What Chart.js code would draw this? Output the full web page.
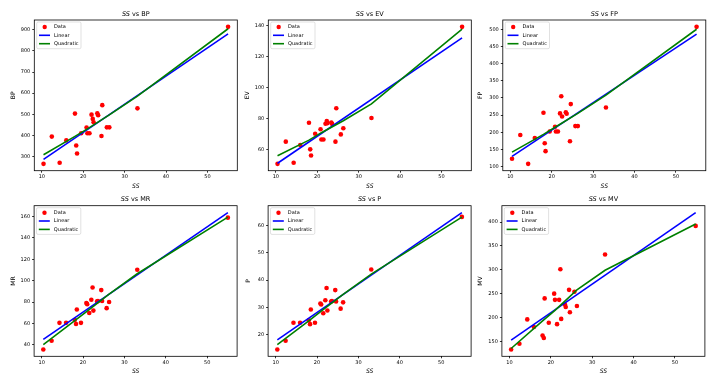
<!DOCTYPE html>
<html><head><meta charset="utf-8">
<script src="https://cdn.jsdelivr.net/npm/chart.js@4.4.0/dist/chart.umd.min.js"></script>
<style>
html,body{margin:0;padding:0;background:#fff;}
body{width:726px;height:382px;position:relative;overflow:hidden;}
canvas{position:absolute;}
</style></head><body>
<script>
// ---- data ----
const ss = [10.4, 12.4, 14.3, 15.9, 18.0, 18.3, 18.5, 19.5, 20.8, 21.0, 21.5, 22.0, 22.3, 22.5, 23.4, 23.6, 24.4, 24.6, 25.7, 26.3, 33.1, 55.0];
const bp = [265, 394, 270, 376, 503, 352, 314, 410, 437, 410, 410, 498, 478, 462, 505, 495, 397, 543, 438, 438, 528, 914];
const ev = [50.6, 65, 51.3, 62.8, 77.2, 60, 56, 70.1, 73, 66.4, 66.4, 76.6, 78.3, 77, 77.4, 76.5, 65, 86.6, 69.7, 73.7, 80.3, 139.4];
const fp = [123, 192, 108, 183, 257, 168, 145, 202, 216, 202, 202, 255, 305, 246, 258, 254, 174, 282, 218, 218, 272, 507];
const mr = [35.6, 43.7, 60.5, 60.5, 63.1, 59.4, 73, 60.5, 79, 78, 69.7, 82.2, 93.6, 72, 80.6, 81, 91.2, 81, 74.3, 80, 110.3, 159];
const pp = [14.5, 17.7, 24.3, 24.3, 25.2, 23.8, 29.2, 24.3, 31.4, 31.0, 27.8, 32.6, 37.1, 28.8, 32.1, 32.3, 36.3, 32.1, 29.5, 31.8, 43.9, 63.2];
const mv = [133, 145, 196, 180, 162, 157, 240, 189, 250, 237, 186, 237, 301, 197, 227, 222, 258, 211, 254, 224, 332, 392];

const fitX = [10.4, 55.0];
const bpLinear = [286, 881];
const evLinear = [51, 132.2];
const fpLinear = [130, 486];
const mrLinear = [45, 163.8];
const pLinear = [18.0, 64.8];
const mvLinear = [152.5, 420];

const quadX = [10.4, 18.0, 21.0, 26.3, 33.1, 55.0];
const bpQuad = [308, 395, 431, 497, 586, 905];
const evQuad = [55.8, 66, 70.8, 78.5, 89.5, 138];
const fpQuad = [142, 194, 216, 255, 308, 500];
const mrQuad = [40.2, 62.5, 71.5, 87.5, 106.5, 159.5];
const pQuad = [16.3, 25, 28.6, 34.7, 42.2, 63.1];
const mvQuad = [135, 193, 215, 258, 299, 396];

const xTicks = [10, 20, 30, 40, 50];
const bpTicks = [300, 400, 500, 600, 700, 800, 900];
const evTicks = [60, 80, 100, 120, 140];
const fpTicks = [100, 150, 200, 250, 300, 350, 400, 450, 500];
const mrTicks = [40, 60, 80, 100, 120, 140, 160];
const pTicks = [20, 30, 40, 50, 60];
const mvTicks = [150, 200, 250, 300, 350, 400];

const seriesNames = ['Data', 'Linear', 'Quadratic'];
const xName = 'SS';

// ---- layout ----
const FONT = '"DejaVu Sans", sans-serif';
const AXW = 203;
const rows = [
  {top: 0, axT: 20, axB: 170.7, titleY: 14, xlabY: 186.7},
  {top: 191, axT: 205.7, axB: 356.3, titleY: 199.3, xlabY: 371.3}
];
const panels = [
  {name: 'BP', y: bp, lin: bpLinear, quad: bpQuad, ticks: bpTicks, row: 0, axL: 34.3, ylab: 13.3},
  {name: 'EV', y: ev, lin: evLinear, quad: evQuad, ticks: evTicks, row: 0, axL: 268.3, ylab: 247.3},
  {name: 'FP', y: fp, lin: fpLinear, quad: fpQuad, ticks: fpTicks, row: 0, axL: 502.8, ylab: 480.7},
  {name: 'MR', y: mr, lin: mrLinear, quad: mrQuad, ticks: mrTicks, row: 1, axL: 34.1, ylab: 13.3},
  {name: 'P', y: pp, lin: pLinear, quad: pQuad, ticks: pTicks, row: 1, axL: 268.1, ylab: 248.7},
  {name: 'MV', y: mv, lin: mvLinear, quad: mvQuad, ticks: mvTicks, row: 1, axL: 501.9, ylab: 480.7}
];

function range(vals) {
  const lo = Math.min(...vals), hi = Math.max(...vals), m = (hi - lo) * 0.05;
  return [lo - m, hi + m];
}

const decorPlugin = {
  id: 'decor',
  afterDraw(chart, args, o) {
    const {ctx, chartArea: a} = chart;
    ctx.save();
    // frame
    ctx.strokeStyle = '#000'; ctx.lineWidth = 0.8;
    ctx.strokeRect(a.left, a.top, a.right - a.left, a.bottom - a.top);
    // title: italic SS + " vs NAME"
    ctx.fillStyle = '#000'; ctx.textBaseline = 'middle'; ctx.textAlign = 'left';
    const f1 = 'italic 6.5px ' + FONT, f2 = '6.5px ' + FONT;
    ctx.font = f1; const w1 = ctx.measureText(xName).width;
    const t2 = ' vs ' + o.name;
    ctx.font = f2; const w2 = ctx.measureText(t2).width;
    const x0 = (a.left + a.right) / 2 - (w1 + w2) / 2;
    ctx.font = f1; ctx.fillText(xName, x0, o.titleY);
    ctx.font = f2; ctx.fillText(t2, x0 + w1, o.titleY);
    // legend
    const bx = a.left + 2.4, by = a.top + 2, bw = 44.3, bh = 26.7, r = 1.5;
    ctx.beginPath();
    ctx.moveTo(bx + r, by); ctx.lineTo(bx + bw - r, by); ctx.quadraticCurveTo(bx + bw, by, bx + bw, by + r);
    ctx.lineTo(bx + bw, by + bh - r); ctx.quadraticCurveTo(bx + bw, by + bh, bx + bw - r, by + bh);
    ctx.lineTo(bx + r, by + bh); ctx.quadraticCurveTo(bx, by + bh, bx, by + bh - r);
    ctx.lineTo(bx, by + r); ctx.quadraticCurveTo(bx, by, bx + r, by);
    ctx.closePath();
    ctx.fillStyle = 'rgba(255,255,255,0.8)'; ctx.fill();
    ctx.strokeStyle = '#cccccc'; ctx.lineWidth = 0.6; ctx.stroke();
    const ds = chart.data.datasets;
    const rowsY = [5, 13.3, 21.7];
    ctx.font = '5px ' + FONT;
    ds.forEach((d, i) => {
      const yy = by + rowsY[i];
      if (i === 0) {
        ctx.beginPath(); ctx.arc(bx + 8, yy, 2.2, 0, Math.PI * 2);
        ctx.fillStyle = d.pointBackgroundColor; ctx.fill();
      } else {
        ctx.beginPath(); ctx.moveTo(bx + 2.3, yy); ctx.lineTo(bx + 13.3, yy);
        ctx.strokeStyle = d.borderColor; ctx.lineWidth = 1.6; ctx.stroke();
      }
      ctx.fillStyle = '#000'; ctx.textBaseline = 'middle';
      ctx.fillText(d.label, bx + 17.3, yy);
    });
    ctx.restore();
  }
};

panels.forEach(p => {
  const R = rows[p.row];
  const cLeft = Math.round(p.ylab - 3.6);
  const yW = p.axL - cLeft;
  const W = Math.ceil(yW + AXW + 5);
  const H = 191;
  const padTop = R.axT - R.top;
  const padBottom = H - (R.xlabY - R.top) - 3.6;
  const xH = H - padBottom - (R.axB - R.top);
  const yTitlePad = (p.ylab - cLeft) - 3.6;

  const cv = document.createElement('canvas');
  cv.width = W; cv.height = H;
  cv.style.left = cLeft + 'px'; cv.style.top = R.top + 'px';
  cv.style.width = W + 'px'; cv.style.height = H + 'px';
  document.body.appendChild(cv);

  const allY = p.y.concat(p.lin, p.quad);
  const [ymin, ymax] = range(allY);
  const [xmin, xmax] = range(ss);

  new Chart(cv.getContext('2d'), {
    type: 'scatter',
    data: {
      datasets: [
        {label: seriesNames[0], data: ss.map((x, i) => ({x, y: p.y[i]})), showLine: false,
         pointRadius: 2.3, pointHoverRadius: 2.3, pointBackgroundColor: '#ff0000', pointBorderWidth: 0, order: 3},
        {label: seriesNames[1], data: fitX.map((x, i) => ({x, y: p.lin[i]})), showLine: true,
         borderColor: '#0000ff', borderWidth: 1.6, pointRadius: 0, fill: false, order: 2},
        {label: seriesNames[2], data: quadX.map((x, i) => ({x, y: p.quad[i]})), showLine: true,
         borderColor: '#008000', borderWidth: 1.6, pointRadius: 0, fill: false, order: 1}
      ]
    },
    options: {
      responsive: false, animation: false, devicePixelRatio: 1, events: [],
      layout: {padding: {left: 0, top: padTop, right: W - yW - AXW, bottom: padBottom}},
      plugins: {legend: {display: false}, tooltip: {enabled: false}, title: {display: false},
                decor: {name: p.name, titleY: R.titleY - R.top}},
      scales: {
        x: {
          type: 'linear', position: 'bottom', min: xmin, max: xmax,
          afterBuildTicks: s => { s.ticks = xTicks.map(v => ({value: v})); },
          afterFit: s => { s.height = xH; },
          ticks: {font: {family: FONT, size: 5}, color: '#000', padding: 1, maxRotation: 0, includeBounds: false},
          grid: {display: true, drawOnChartArea: false, drawTicks: true, tickLength: 2, tickColor: '#000', tickWidth: 0.8},
          border: {display: false},
          title: {display: true, text: xName, color: '#000', padding: 0, font: {family: FONT, size: 6, style: 'italic'}}
        },
        y: {
          type: 'linear', position: 'left', min: ymin, max: ymax,
          afterBuildTicks: s => { s.ticks = p.ticks.map(v => ({value: v})); },
          afterFit: s => { s.width = yW; },
          ticks: {font: {family: FONT, size: 5}, color: '#000', padding: 2, includeBounds: false},
          grid: {display: true, drawOnChartArea: false, drawTicks: true, tickLength: 2, tickColor: '#000', tickWidth: 0.8},
          border: {display: false},
          title: {display: true, text: p.name, color: '#000', padding: {top: yTitlePad, bottom: 0}, font: {family: FONT, size: 6}}
        }
      }
    },
    plugins: [decorPlugin]
  });
});
</script>
</body></html>
